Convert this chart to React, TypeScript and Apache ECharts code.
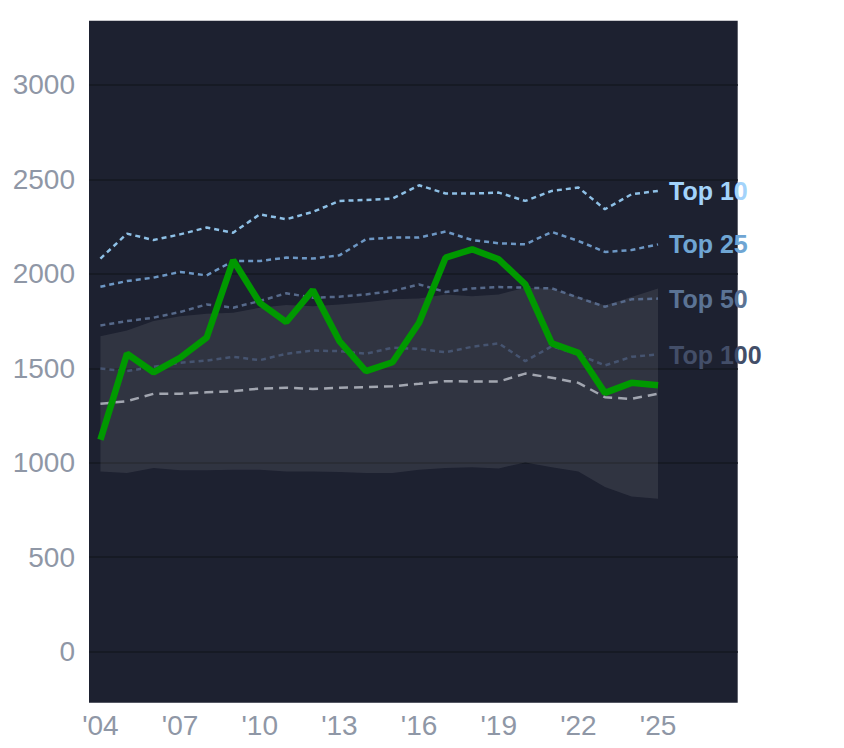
import React, { useEffect, useRef } from "react";
import * as echarts from "echarts";

const years = [2004, 2005, 2006, 2007, 2008, 2009, 2010, 2011, 2012, 2013, 2014, 2015, 2016, 2017, 2018, 2019, 2020, 2021, 2022, 2023, 2024, 2025];
const selected = [1122, 1577, 1479, 1556, 1662, 2072, 1847, 1745, 1914, 1644, 1485, 1532, 1741, 2086, 2130, 2077, 1944, 1632, 1582, 1370, 1423, 1410];
const top10 = [2081, 2213, 2179, 2209, 2245, 2218, 2315, 2289, 2328, 2386, 2391, 2399, 2469, 2425, 2425, 2430, 2386, 2439, 2457, 2342, 2421, 2439];
const top25 = [1932, 1962, 1980, 2010, 1992, 2068, 2068, 2086, 2081, 2098, 2183, 2192, 2192, 2224, 2179, 2162, 2156, 2222, 2174, 2116, 2126, 2156];
const top50 = [1727, 1750, 1768, 1798, 1838, 1821, 1856, 1897, 1874, 1879, 1891, 1909, 1944, 1904, 1923, 1930, 1927, 1923, 1874, 1826, 1865, 1869];
const top100 = [1499, 1485, 1508, 1529, 1541, 1561, 1543, 1577, 1594, 1591, 1577, 1609, 1603, 1585, 1614, 1632, 1538, 1617, 1573, 1515, 1561, 1573];
const median = [1312, 1326, 1365, 1366, 1373, 1379, 1393, 1397, 1391, 1397, 1400, 1405, 1418, 1432, 1430, 1430, 1472, 1450, 1423, 1347, 1338, 1366];
const bandHigh = [1670, 1700, 1750, 1776, 1789, 1794, 1821, 1835, 1829, 1838, 1850, 1865, 1870, 1891, 1882, 1891, 1927, 1921, 1878, 1833, 1878, 1923];
const bandLow = [954, 946, 972, 960, 960, 963, 963, 954, 954, 951, 946, 946, 963, 972, 976, 970, 1002, 976, 954, 872, 822, 810];

const yTicks = [0, 500, 1000, 1500, 2000, 2500, 3000];
const xTicks = [2004, 2007, 2010, 2013, 2016, 2019, 2022, 2025];

const FONT = "'Liberation Sans', Arial, sans-serif";

const pairs = (vals: number[]) => years.map((y, i) => [y, vals[i]]);

export default function App() {
  const ref = useRef<HTMLDivElement>(null);
  useEffect(() => {
    document.body.style.margin = "0";
    document.body.style.overflow = "hidden";
    if (!ref.current) return;
    const chart = echarts.init(ref.current, null, { renderer: "svg" });

    const topLine = (name: string, vals: number[], lineColor: string, labelColor: string) => ({
      name,
      type: "line",
      data: pairs(vals),
      symbol: "none",
      z: 4,
      lineStyle: { color: lineColor, width: 2.5, type: [5, 4] },
      endLabel: {
        show: true,
        formatter: name,
        color: labelColor,
        fontSize: 25,
        fontWeight: "bold",
        fontFamily: FONT,
        distance: 11,
      },
    });

    chart.setOption({
      animation: false,
      grid: {
        left: 89,
        right: 106.3,
        top: 20.7,
        bottom: 45.3,
        show: true,
        backgroundColor: "#1d2130",
        borderWidth: 0,
      },
      xAxis: {
        type: "value",
        min: 2003.57,
        max: 2028,
        axisLine: { show: false },
        axisTick: { show: false },
        splitLine: { show: false },
        axisLabel: {
          customValues: xTicks,
          formatter: (v: number) => "'" + String(v).slice(2),
          color: "#8f97a6",
          fontSize: 28,
          fontFamily: FONT,
          margin: 9,
        },
      },
      yAxis: {
        type: "value",
        min: -270,
        max: 3340,
        axisLine: { show: false },
        axisTick: { show: false, customValues: yTicks },
        splitLine: { show: false },
        axisLabel: {
          customValues: yTicks,
          formatter: (v: number) => String(v),
          color: "#8f97a6",
          fontSize: 28,
          fontFamily: FONT,
          margin: 14,
        },
      },
      series: [
        {
          name: "band",
          type: "custom",
          data: years.map((y, i) => [y, bandLow[i], bandHigh[i]]),
          z: 2,
          silent: true,
          clip: true,
          renderItem: (params: any, api: any) => {
            if (params.dataIndex !== 0) return null;
            const upper = years.map((y, i) => api.coord([y, bandHigh[i]]));
            const lower = years.map((y, i) => api.coord([y, bandLow[i]])).reverse();
            return {
              type: "polygon",
              shape: { points: upper.concat(lower) },
              style: { fill: "rgba(255,255,255,0.085)", stroke: "none" },
            };
          },
          markLine: {
            silent: true,
            symbol: "none",
            z: 1,
            label: { show: false },
            lineStyle: { color: "#161a24", width: 2, type: "solid" },
            data: yTicks.map((v) => ({ yAxis: v })),
          },
        },
        topLine("Top 100", top100, "#465470", "#434e68"),
        topLine("Top 50", top50, "#56698a", "#5b7394"),
        topLine("Top 25", top25, "#6d97c4", "#6fa5d3"),
        topLine("Top 10", top10, "#8ec0e6", "#a3d3fb"),
        {
          name: "median",
          type: "line",
          data: pairs(median),
          symbol: "none",
          z: 4,
          lineStyle: { color: "#a2a6b0", width: 2.5, type: [9, 6] },
        },
        {
          name: "selected",
          type: "line",
          data: pairs(selected),
          symbol: "none",
          z: 5,
          lineStyle: { color: "#009900", width: 6.5 },
        },
      ],
    });
    return () => chart.dispose();
  }, []);
  return <div ref={ref} style={{ width: 844, height: 748 }} />;
}
